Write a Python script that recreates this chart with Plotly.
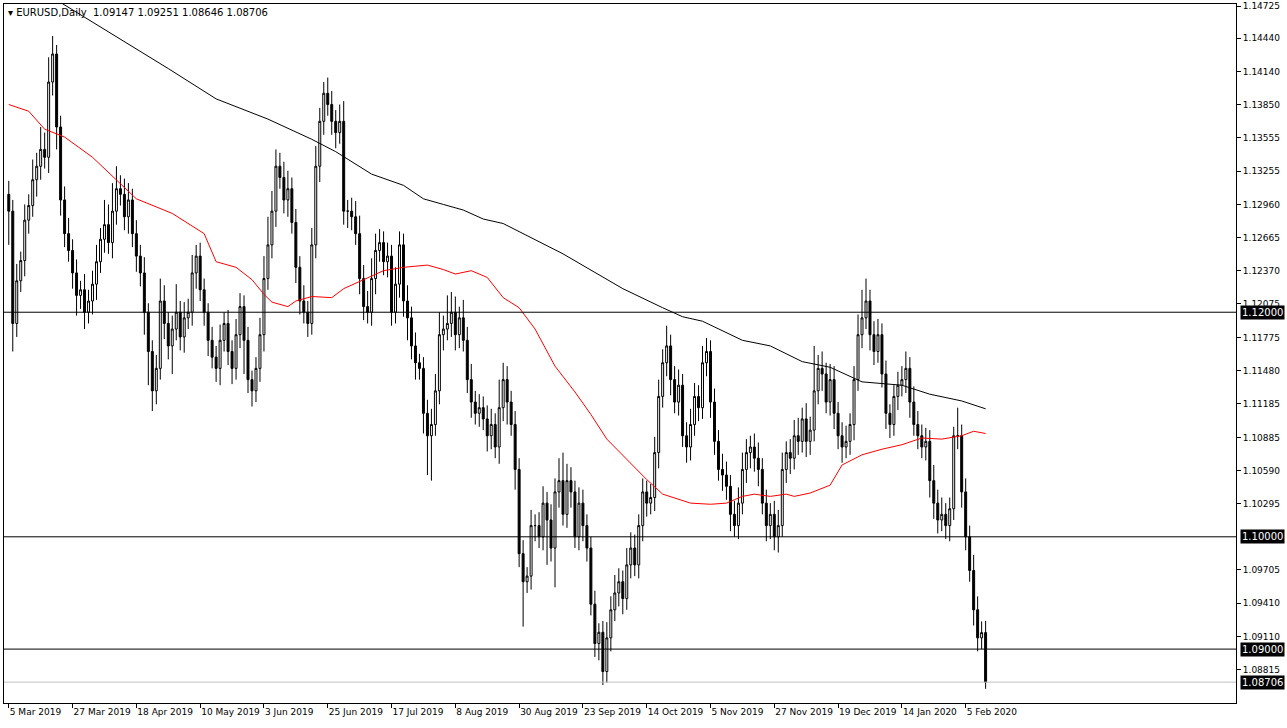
import plotly.graph_objects as go

first_open = 1.1305
closes = [
 1.1290,1.1190,1.1228,1.1246,1.1282,1.1295,1.1318,1.1330,
 1.1345,1.1338,1.1405,1.1430,1.1365,1.1300,1.1270,1.1255,
 1.1235,1.1215,1.1220,1.1200,1.1210,1.1225,1.1245,1.1265,
 1.1278,1.1262,1.1290,1.1310,1.1305,1.1285,1.1300,1.1270,
 1.1250,1.1235,1.1200,1.1165,1.1130,1.1150,1.1210,1.1190,
 1.1170,1.1185,1.1200,1.1178,1.1195,1.1200,1.1235,1.1250,
 1.1220,1.1200,1.1175,1.1160,1.1150,1.1175,1.1190,1.1165,
 1.1150,1.1180,1.1205,1.1175,1.1140,1.1130,1.1150,1.1180,
 1.1230,1.1260,1.1290,1.1330,1.1320,1.1300,1.1310,1.1280,
 1.1240,1.1210,1.1200,1.1190,1.1260,1.1330,1.1370,1.1395,
 1.1385,1.1370,1.1360,1.1370,1.1290,1.1290,1.1285,1.1270,
 1.1230,1.1205,1.1200,1.1230,1.1255,1.1262,1.1245,1.1250,
 1.1200,1.1225,1.1260,1.1210,1.1195,1.1170,1.1155,1.1150,
 1.1110,1.1090,1.1100,1.1130,1.1180,1.1185,1.1190,1.1200,
 1.1180,1.1195,1.1175,1.1140,1.1120,1.1110,1.1115,1.1105,
 1.1090,1.1100,1.1080,1.1115,1.1140,1.1120,1.1100,1.1060,
 1.0985,1.0960,1.0965,1.1010,1.1010,1.1000,1.1030,1.1015,
 1.0990,1.1040,1.1050,1.1020,1.1050,1.1040,1.1000,1.1030,
 1.1010,1.0990,1.0940,1.0905,1.0915,1.0880,1.0910,1.0935,
 1.0950,1.0960,1.0945,1.0975,1.0990,1.0975,1.1010,1.1040,
 1.1030,1.1035,1.1075,1.1125,1.1155,1.1170,1.1140,1.1120,
 1.1135,1.1090,1.1080,1.1100,1.1125,1.1115,1.1155,1.1165,
 1.1120,1.1085,1.1060,1.1055,1.1045,1.1020,1.1010,1.1030,
 1.1060,1.1075,1.1080,1.1070,1.1060,1.1030,1.1010,1.1020,
 1.1000,1.1010,1.1060,1.1075,1.1070,1.1090,1.1085,1.1105,
 1.1085,1.1095,1.1130,1.1150,1.1145,1.1120,1.1140,1.1110,
 1.1090,1.1080,1.1085,1.1100,1.1140,1.1180,1.1195,1.1210,
 1.1180,1.1165,1.1180,1.1145,1.1110,1.1100,1.1125,1.1135,
 1.1140,1.1150,1.1120,1.1100,1.1090,1.1080,1.1085,1.1050,
 1.1030,1.1015,1.1020,1.1010,1.1025,1.1090,1.1090,1.1040,
 1.1000,1.0970,1.0935,1.0910,1.09147,1.08706,
]
wick_up = [  # pips above body
 12,10,15,8,14,10,18,12, 20,15,22,16,8,10,12,14,
 10,12,8,14,10,12,15,10, 22,18,25,20,12,14,15,10,
 12,10,14,8,10,12,20,14, 10,12,25,10,14,12,16,10,
 12,10,8,12,10,14,10,12, 10,14,12,10,12,8,10,15,
 20,25,18,15,12,14,16,10, 12,10,14,10,15,18,12,10,
 14,12,10,15,18,10,12,14, 16,12,14,18,15,12,10,12,
 10,15,12,10,14,10,12,8, 10,12,14,15,20,12,25,18,
 14,10,16,12,14,10,12,10, 12,14,10,25,15,12,10,12,
 10,12,8,14,10,12,15,10, 14,12,20,25,15,12,10,14,
 12,10,10,12,8,10,14,12, 16,12,10,15,14,12,10,12,
 10,12,14,15,12,18,10,12, 14,10,12,14,12,10,15,12,
 10,12,10,14,12,10,12,14, 15,12,10,12,14,10,12,10,
 12,14,15,10,12,14,16,10, 14,12,40,12,15,10,14,12,
 10,12,14,10,12,18,25,20, 10,12,14,10,12,8,10,12,
 12,15,10,14,12,10,12,10, 14,12,15,10,10,8,25,10,
 12,10,14,12,10,8,
]
wick_dn = [  # pips below body
 30,25,12,10,14,12,10,15, 12,10,14,12,20,14,12,10,
 14,18,12,15,10,12,14,10, 12,10,14,12,10,12,15,12,
 14,12,20,30,18,12,10,14, 12,25,10,12,14,10,12,14,
 10,12,14,10,12,15,10,12, 14,10,12,30,12,14,10,12,
 15,10,12,14,10,12,15,10, 14,12,10,12,10,12,14,12,
 10,12,14,10,12,15,12,10, 14,12,10,12,14,10,12,14,
 12,10,12,14,20,12,15,10, 18,35,40,10,12,14,10,12,
 14,12,10,12,14,10,12,10, 14,12,10,15,12,20,10,18,
 12,40,10,12,14,10,12,40, 12,35,14,10,12,14,10,12,
 14,12,10,12,15,12,10,12, 10,12,14,10,12,10,12,14,
 12,10,12,14,10,12,14,10, 12,10,14,12,10,12,10,12,
 14,12,10,14,12,15,10,12, 10,12,14,12,15,10,14,12,
 12,14,10,12,14,10,12,10, 14,12,10,12,15,10,12,14,
 12,14,10,12,14,10,12,10, 14,12,10,12,14,12,10,12,
 10,12,14,10,12,10,12,15, 14,12,10,12,14,10,12,14,
 12,10,14,12,10,6,
]
date_labels = ["5 Mar 2019","27 Mar 2019","18 Apr 2019","10 May 2019","3 Jun 2019",
 "25 Jun 2019","17 Jul 2019","8 Aug 2019","30 Aug 2019","23 Sep 2019","14 Oct 2019",
 "5 Nov 2019","27 Nov 2019","19 Dec 2019","14 Jan 2020","5 Feb 2020"]
date_bars = [0,16,32,48,64,80,96,112,128,144,160,176,192,208,224,240]

ma200_bars = [10,12,40,52,65,76,82,91,99,104,109,114,119,124,139,154,164,169,174,184,191,199,206,214,224,231,239,245]
ma200_vals = [1.1495,1.1478,1.1417,1.1390,1.1372,1.1354,1.1343,1.1323,1.1313,1.1301,1.1296,1.1291,1.1283,1.1279,
              1.1252,1.1221,1.1204,1.1196,1.1192,1.1175,1.1170,1.1156,1.1151,1.1138,1.1135,1.1127,1.1121,1.1114]
ma50_bars = [0,5,9,14,21,26,32,41,49,52,57,61,64,66,70,72,76,81,84,89,94,99,105,109,112,116,120,124,128,132,137,
             142,146,150,155,160,164,171,176,180,184,187,191,195,197,201,206,209,214,219,224,229,234,239,242,245]
ma50_vals = [1.1385,1.1379,1.1363,1.1356,1.1338,1.1321,1.1301,1.1288,1.1270,1.1245,1.1240,1.1229,1.1216,1.1209,1.1205,
             1.1210,1.1214,1.1213,1.1221,1.1229,1.1237,1.1240,1.1242,1.1238,1.1234,1.1237,1.1231,1.1213,1.1204,1.1185,
             1.1152,1.1129,1.1109,1.1087,1.1069,1.1051,1.1038,1.1030,1.1029,1.1030,1.1036,1.1038,1.1036,1.1038,1.1036,
             1.1039,1.1046,1.1064,1.1073,1.1078,1.1082,1.1088,1.1087,1.1090,1.1094,1.1092,1.1082]
ma50_vals = ma50_vals[:len(ma50_bars)]

levels = [1.12, 1.10, 1.09]
bid = 1.08706
ytick_vals = [1.14725,1.14440,1.14140,1.13850,1.13555,1.13255,1.12960,1.12665,1.12370,1.12075,
              1.11775,1.11480,1.11185,1.10885,1.10590,1.10295,1.09705,1.09410,1.09110,1.08815]

n = len(closes)
opens = [first_open] + closes[:-1]
opens[-1] = 1.09147
highs = [max(o, c) + u / 10000 for o, c, u in zip(opens, closes, wick_up[:n])]
lows = [min(o, c) - d / 10000 for o, c, d in zip(opens, closes, wick_dn[:n])]
highs[-1] = 1.09251; lows[-1] = 1.08646
x = list(range(n))

FONT = "Tahoma, DejaVu Sans"
fig = go.Figure()
fig.add_trace(go.Candlestick(x=x, open=opens, high=highs, low=lows, close=closes,
    increasing=dict(line=dict(color="black", width=1), fillcolor="white"),
    decreasing=dict(line=dict(color="black", width=1), fillcolor="black"),
    whiskerwidth=0, showlegend=False, hoverinfo="skip"))
fig.add_trace(go.Scatter(x=ma200_bars, y=ma200_vals, mode="lines",
    line=dict(color="black", width=1), showlegend=False, hoverinfo="skip"))
fig.add_trace(go.Scatter(x=ma50_bars, y=ma50_vals, mode="lines",
    line=dict(color="red", width=1), showlegend=False, hoverinfo="skip"))

for lv in levels:
    fig.add_hline(y=lv, line=dict(color="black", width=1))
    fig.add_annotation(x=1, xref="paper", y=lv, yref="y", xanchor="left", yanchor="middle",
        text=f"{lv:.5f}", showarrow=False, bgcolor="black", font=dict(color="white", size=10, family=FONT),
        xshift=4, borderpad=1)
fig.add_hline(y=bid, line=dict(color="#c0c0c0", width=1))
fig.add_annotation(x=1, xref="paper", y=bid, yref="y", xanchor="left", yanchor="middle",
    text=f"{bid:.5f}", showarrow=False, bgcolor="black", font=dict(color="white", size=10, family=FONT),
    xshift=4, borderpad=1)
fig.add_annotation(x=0, xref="paper", y=1, yref="paper", xanchor="left", yanchor="top",
    text="▾ EURUSD,Daily  1.09147 1.09251 1.08646 1.08706", showarrow=False, xshift=2, yshift=-1,
    font=dict(color="black", size=10, family=FONT))

fig.update_layout(
    width=1287, height=728, paper_bgcolor="white", plot_bgcolor="white",
    margin=dict(l=4, r=51, t=4, b=25),
    font=dict(family=FONT, size=10, color="black"),
    xaxis=dict(range=[-1.2, 307.8], tickmode="array", tickvals=date_bars, ticktext=date_labels,
               ticks="outside", ticklen=4, tickcolor="black", showgrid=False, zeroline=False,
               rangeslider=dict(visible=False), showline=True, linecolor="black", mirror=True,
               ticklabelposition="outside right", tickangle=0, automargin=False,
               tickfont=dict(size=9)),
    yaxis=dict(range=[1.0852, 1.14745], side="right", tickmode="array", tickvals=ytick_vals,
               ticktext=[f"{v:.5f}" for v in ytick_vals], ticks="outside", ticklen=4, tickcolor="black",
               showgrid=False, zeroline=False, showline=True, linecolor="black", mirror=True,
               automargin=False, tickfont=dict(size=9)),
)
fig.write_html("out.html", config={"displayModeBar": False},
               post_script="document.body.style.margin='0';document.body.style.overflow='hidden';")
